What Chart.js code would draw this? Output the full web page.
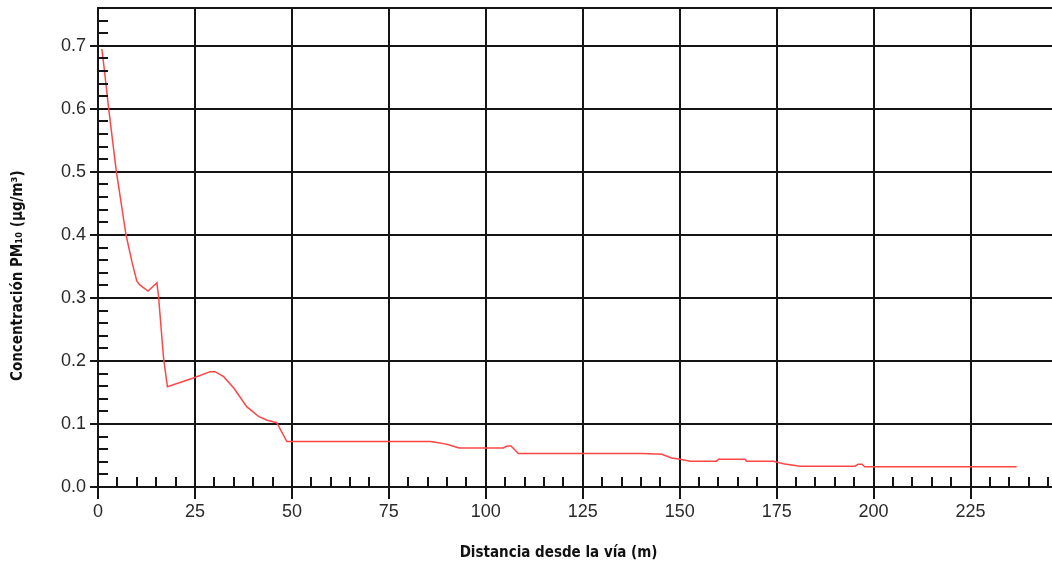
<!DOCTYPE html>
<html>
<head>
<meta charset="utf-8">
<script src="https://cdn.jsdelivr.net/npm/chart.js@4/dist/chart.umd.min.js"></script>
<style>
  html, body { margin: 0; padding: 0; background: #fff; overflow: hidden; }
  canvas { display: block; }
</style>
</head>
<body>
<canvas id="pm10Chart" width="1052" height="564"></canvas>
<script>
// distancia desde la vía (m)
const distancia = [1, 1.6, 2.7, 4.7, 7.2, 8.8, 10.0, 10.7, 12.9, 15.2, 15.6, 16.9, 17.9,
  24.6, 28.9, 30.2, 32.4, 35.0, 38.4, 41.4, 43.6, 46.1, 48.7, 85.7, 88.2, 90.4, 93.1,
  104.5, 105.5, 106.5, 108.4, 140.6, 145.4, 147.9, 150.1, 152.7, 159.5, 160, 166.8,
  167.3, 174.1, 176.7, 181, 195.2, 196, 197, 197.7, 236.9];
// concentración PM10 (µg/m³)
const concentracion = [0.695, 0.664, 0.603, 0.502, 0.401, 0.356, 0.327, 0.321, 0.311, 0.324, 0.303, 0.205, 0.159,
  0.173, 0.183, 0.183, 0.175, 0.157, 0.127, 0.112, 0.106, 0.102, 0.072, 0.072, 0.070, 0.067, 0.062,
  0.062, 0.065, 0.065, 0.053, 0.053, 0.052, 0.046, 0.044, 0.041, 0.041, 0.044, 0.044,
  0.041, 0.041, 0.037, 0.033, 0.033, 0.036, 0.036, 0.032, 0.032];

const xMax = 246, xMajor = 25, xMinor = 5;
const yMax = 0.76, yMajor = 0.1, yMinor = 0.02;

const isMultiple = (v, step) => Math.abs(v / step - Math.round(v / step)) < 1e-6;
const black = '#151515';
const clear = 'rgba(0,0,0,0)';

// small inward ticks between the major grid lines
const minorTicks = {
  id: 'minorTicks',
  afterDatasetsDraw(chart) {
    const {ctx, chartArea, scales: {x, y}} = chart;
    ctx.save();
    ctx.strokeStyle = black;
    ctx.lineWidth = 2;
    x.ticks.forEach(t => {
      if (isMultiple(t.value, xMajor)) return;
      const px = Math.round(x.getPixelForValue(t.value));
      ctx.beginPath();
      ctx.moveTo(px, chartArea.bottom);
      ctx.lineTo(px, chartArea.bottom - 10);
      ctx.stroke();
    });
    y.ticks.forEach(t => {
      if (isMultiple(t.value, yMajor) || t.value >= yMax - 1e-6) return;
      const py = Math.round(y.getPixelForValue(t.value));
      ctx.beginPath();
      ctx.moveTo(chartArea.left, py);
      ctx.lineTo(chartArea.left + 10, py);
      ctx.stroke();
    });
    ctx.restore();
  }
};

const ctx = document.getElementById('pm10Chart').getContext('2d');
new Chart(ctx, {
  type: 'line',
  data: {
    datasets: [{
      data: distancia.map((d, i) => ({x: d, y: concentracion[i]})),
      borderColor: 'rgb(255, 70, 70)',
      borderWidth: 1.5,
      pointRadius: 0,
      tension: 0,
      fill: false
    }]
  },
  options: {
    responsive: false,
    animation: false,
    devicePixelRatio: 1,
    layout: { padding: { top: 8, right: 0, left: 0, bottom: 0 } },
    plugins: { legend: { display: false }, tooltip: { enabled: false } },
    scales: {
      x: {
        type: 'linear',
        min: 0,
        max: xMax,
        afterFit: s => { s.height = 77; s.paddingRight = 0; },
        border: { color: black, width: 2 },
        grid: {
          lineWidth: 2,
          tickLength: 12,
          color: c => isMultiple(c.tick.value, xMajor) ? black : clear,
          tickColor: c => isMultiple(c.tick.value, xMajor) ? black : clear
        },
        ticks: {
          stepSize: xMinor,
          maxTicksLimit: 100,
          autoSkip: false,
          includeBounds: false,
          maxRotation: 0,
          padding: 2,
          color: '#2a2a2a',
          font: { family: 'Liberation Sans', size: 18 },
          callback: v => isMultiple(v, xMajor) ? String(Math.round(v)) : ''
        },
        title: {
          display: true,
          text: 'Distancia desde la vía (m)' + '\u00a0'.repeat(7),
          color: '#111',
          font: { family: 'DejaVu Sans Condensed', size: 15, weight: 'bold' },
          padding: { top: 0, bottom: 2 }
        }
      },
      y: {
        type: 'linear',
        min: 0,
        max: yMax,
        afterFit: s => { s.width = 98; s.paddingTop = 0; },
        border: { color: black, width: 2 },
        grid: {
          lineWidth: 2,
          tickLength: 8,
          color: c => (isMultiple(c.tick.value, yMajor) || c.tick.value >= yMax - 1e-6) ? black : clear,
          tickColor: c => isMultiple(c.tick.value, yMajor) ? black : clear
        },
        ticks: {
          stepSize: yMinor,
          maxTicksLimit: 100,
          autoSkip: false,
          padding: 4,
          color: '#2a2a2a',
          font: { family: 'Liberation Sans', size: 18 },
          callback: v => isMultiple(v, yMajor) ? v.toFixed(1) : ''
        },
        title: {
          display: true,
          text: 'Concentración PM₁₀ (µg/m³)' + '\u00a0'.repeat(12),
          color: '#111',
          font: { family: 'DejaVu Sans Condensed', size: 15, weight: 'bold' },
          padding: { top: 9, bottom: 0 }
        }
      }
    }
  },
  plugins: [minorTicks]
});
</script>
</body>
</html>
